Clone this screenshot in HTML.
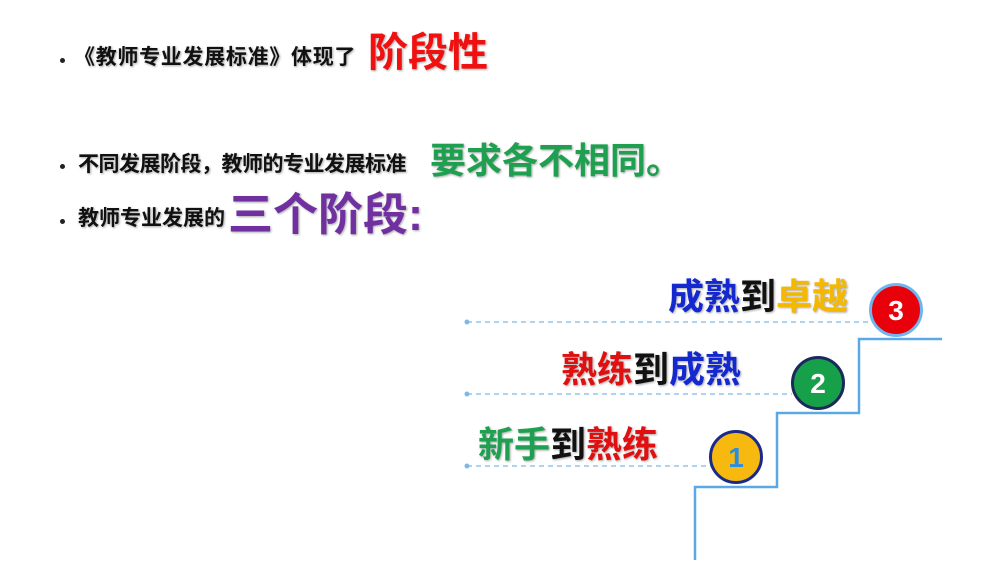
<!DOCTYPE html>
<html><head><meta charset="utf-8"><style>
body{margin:0;width:1000px;height:562px;background:#fff;position:relative;overflow:hidden;font-family:"Liberation Sans","Noto Sans CJK SC",sans-serif;font-weight:bold}
.t{position:absolute;white-space:nowrap;line-height:1}
.b{position:absolute;width:5px;height:5px;border-radius:50%;background:#222}
.s{text-shadow:1px 1px 2px rgba(0,0,0,.35)}
.c{position:absolute;width:54px;height:54px;border-radius:50%;box-sizing:border-box;text-align:center;line-height:50px;font-size:28px;color:#fff}
</style></head><body>
<div class="b" style="left:60px;top:58px"></div>
<div class="t s" style="left:74px;top:47px;font-size:21px;color:#111;letter-spacing:0.7px">《教师专业发展标准》体现了</div>
<div class="t s" style="left:368px;top:33px;font-size:40px;color:#f01010">阶段性</div>

<div class="b" style="left:60px;top:164px"></div>
<div class="t s" style="left:78px;top:154px;font-size:21px;color:#111;letter-spacing:-0.5px">不同发展阶段，教师的专业发展标准</div>
<div class="t s" style="left:430px;top:143px;font-size:36px;color:#1fa050">要求各不相同。</div>

<div class="b" style="left:60px;top:219px"></div>
<div class="t s" style="left:78px;top:208px;font-size:21px;color:#111">教师专业发展的</div>
<div class="t s" style="left:228px;top:192px;font-size:45px;color:#7030a0">三个阶段:</div>

<svg style="position:absolute;left:0;top:0" width="1000" height="562">
<g stroke="#7cb9e8" stroke-width="1.3" stroke-dasharray="5,4">
<line x1="467" y1="322" x2="872" y2="322"/>
<line x1="467" y1="394" x2="792" y2="394"/>
<line x1="467" y1="466" x2="712" y2="466"/>
</g>
<g fill="#7cb9e8"><circle cx="467" cy="322" r="2.5"/><circle cx="467" cy="394" r="2.5"/><circle cx="467" cy="466" r="2.5"/></g>
<polyline points="695,560 695,487 777,487 777,413 859,413 859,339 942,339" fill="none" stroke="#5aa9e6" stroke-width="2.5"/>
</svg>

<div class="t s" style="left:668px;top:279px;font-size:36px"><span style="color:#1428d0">成熟</span><span style="color:#111">到</span><span style="color:#f5b800">卓越</span></div>
<div class="t s" style="left:561px;top:352px;font-size:36px"><span style="color:#e01010">熟练</span><span style="color:#111">到</span><span style="color:#1428d0">成熟</span></div>
<div class="t s" style="left:478px;top:427px;font-size:36px"><span style="color:#1fa050">新手</span><span style="color:#111">到</span><span style="color:#e01010">熟练</span></div>

<div class="c" style="left:869px;top:283px;background:#e8000a;border:3px solid #6fb6ef">3</div>
<div class="c" style="left:791px;top:356px;background:#17a04a;border:3px solid #1a2a5a">2</div>
<div class="c" style="left:709px;top:430px;background:#f7b90f;border:3px solid #1a2a8a;color:#2a8ee0">1</div>
</body></html>
